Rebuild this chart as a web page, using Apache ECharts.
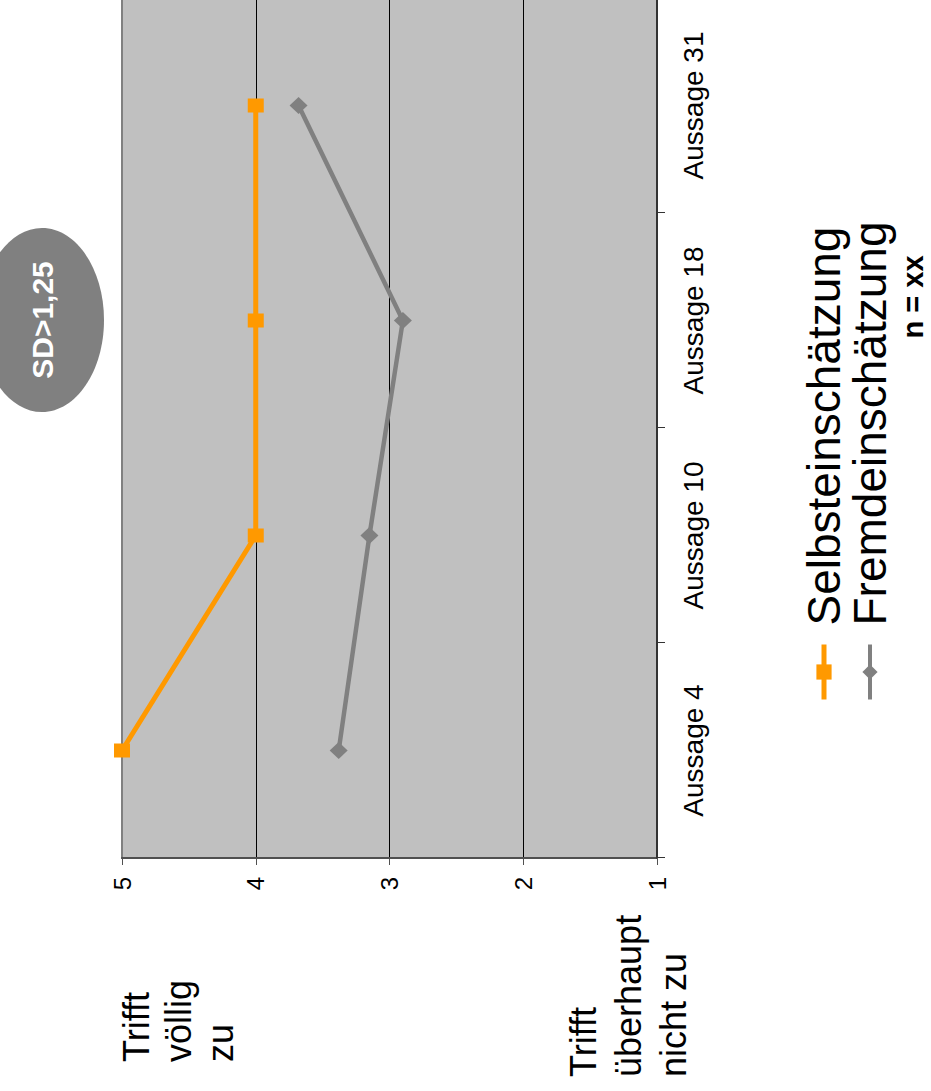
<!DOCTYPE html>
<html>
<head>
<meta charset="utf-8">
<script src="https://cdn.jsdelivr.net/npm/echarts@6/dist/echarts.min.js"></script>
<style>
  html, body { margin: 0; padding: 0; width: 931px; height: 1091px; overflow: hidden; background: #fff; }
  /* The chart is laid out in landscape and turned a quarter turn counter-clockwise. */
  #chart {
    position: absolute; left: 0; top: 0;
    width: 1091px; height: 931px;
    transform-origin: 0 0;
    transform: translate(0px, 1091px) rotate(-90deg);
  }
</style>
</head>
<body>
<div id="chart"></div>
<script>
// Items (statements) shown along the category axis
const categories = ['Aussage 4', 'Aussage 10', 'Aussage 18', 'Aussage 31'];
// Mean ratings on the 1..5 scale
const selbstValues = [5, 4, 4, 4];
const fremdValues = [3.38, 3.15, 2.9, 3.68];
const seriesNames = ['Selbsteinschätzung', 'Fremdeinschätzung'];
const seriesColors = ['#ff9900', '#808080'];
// Scale anchors
const scaleTopLabel = ['Trifft', 'völlig', 'zu'];
const scaleBottomLabel = ['Trifft', 'überhaupt', 'nicht zu'];
const sdNote = 'SD>1,25';
const sampleNote = 'n = xx';

const FONT = "'Liberation Sans', Arial, Helvetica, sans-serif";

const chart = echarts.init(document.getElementById('chart'), null, { renderer: 'svg' });

function lineTexts(lines, x, firstMiddle, step, size) {
  return lines.map((t, i) => ({
    type: 'text',
    x: x,
    y: firstMiddle + i * step,
    style: {
      text: t, fontSize: size, fontFamily: FONT, fill: '#000',
      textAlign: 'left', textVerticalAlign: 'middle'
    }
  }));
}

const option = {
  backgroundColor: '#ffffff',
  animation: false,
  grid: {
    left: 233, right: -2, top: 122, bottom: 274,
    show: true,
    backgroundColor: '#c0c0c0',
    borderColor: '#808080',
    borderWidth: 2,
    containLabel: false,
    outerBoundsMode: 'none'
  },
  xAxis: {
    type: 'category',
    data: categories,
    boundaryGap: true,
    axisLine: { show: true, lineStyle: { color: '#333333', width: 2 } },
    axisTick: { show: true, length: 8, lineStyle: { color: '#333333', width: 1 } },
    axisLabel: { fontSize: 28, fontFamily: FONT, color: '#000', margin: 22 },
    splitLine: { show: false }
  },
  yAxis: {
    type: 'value',
    min: 1, max: 5, interval: 1,
    axisLine: { show: true, lineStyle: { color: '#505050', width: 2 } },
    axisTick: { show: true, length: 7, lineStyle: { color: '#505050', width: 1 } },
    axisLabel: { fontSize: 24, fontFamily: FONT, color: '#000', margin: 19 },
    splitLine: {
      show: true,
      lineStyle: { color: ['#333333', '#000000', '#000000', '#000000', '#808080'], width: 1 }
    }
  },
  legend: {
    orient: 'vertical',
    left: 384, top: 796,
    itemWidth: 55, itemHeight: 19, itemGap: 0,
    data: seriesNames.map((n, i) => ({
      name: n,
      lineStyle: { width: i === 0 ? 5 : 4, color: seriesColors[i] },
      itemStyle: { color: seriesColors[i] }
    })),
    textStyle: { fontSize: 46, lineHeight: 45, fontFamily: FONT, color: '#000', padding: [0, 0, 0, 14] }
  },
  series: [
    {
      name: seriesNames[0], type: 'line', data: selbstValues,
      symbol: 'rect', symbolSize: [14, 16],
      lineStyle: { color: seriesColors[0], width: 5 },
      itemStyle: { color: seriesColors[0] },
      z: 4
    },
    {
      name: seriesNames[1], type: 'line', data: fremdValues,
      symbol: 'diamond', symbolSize: [17, 18],
      lineStyle: { color: seriesColors[1], width: 4.5 },
      itemStyle: { color: seriesColors[1] },
      z: 3
    }
  ],
  graphic: [
    {
      type: 'ellipse',
      shape: { cx: 771, cy: 42, rx: 92, ry: 62 },
      style: { fill: '#808080' },
      z: 10
    },
    {
      type: 'text', x: 771, y: 42, z: 11,
      style: {
        text: sdNote, fontSize: 30, fontWeight: 'bold', fontFamily: FONT, fill: '#fff',
        textAlign: 'center', textVerticalAlign: 'middle'
      }
    },
    {
      type: 'text', x: 794, y: 913,
      style: {
        text: sampleNote, fontSize: 29, fontWeight: 'bold', fontFamily: FONT, fill: '#000',
        textAlign: 'center', textVerticalAlign: 'middle'
      }
    }
  ].concat(lineTexts(scaleTopLabel, 29, 136, 42, 36))
   .concat(lineTexts(scaleBottomLabel, 14, 583, 45, 36))
};

chart.setOption(option);
</script>
</body>
</html>
